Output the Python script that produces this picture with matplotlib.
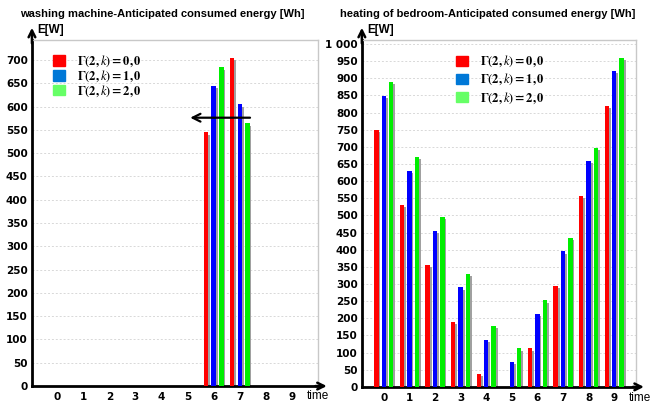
import numpy as np
import matplotlib.pyplot as plt
from matplotlib.patches import Patch

plt.rcParams['mathtext.fontset'] = 'stix'

times = np.arange(10)

# washing machine
wash_g0 = [0, 0, 0, 0, 0, 0, 545, 705, 0, 0]
wash_g1 = [0, 0, 0, 0, 0, 0, 645, 605, 0, 0]
wash_g2 = [0, 0, 0, 0, 0, 0, 685, 565, 0, 0]

# heating of bedroom
heat_g0 = [748, 530, 355, 190, 38, 0, 112, 295, 558, 820]
heat_g1 = [848, 630, 455, 290, 138, 72, 212, 395, 658, 920]
heat_g2 = [888, 670, 495, 328, 177, 112, 252, 435, 698, 960]

legend_labels = [r'$\mathbf{\Gamma(2,}\mathit{k}\mathbf{)=0,0}$',
                 r'$\mathbf{\Gamma(2,}\mathit{k}\mathbf{)=1,0}$',
                 r'$\mathbf{\Gamma(2,}\mathit{k}\mathbf{)=2,0}$']
legend_colors = ['#ff0000', '#0078d7', '#66ff66']
bar_colors = ['#ff0000', '#0000ff', '#00ee00']


def fmt(v):
    return '{:,}'.format(int(v)).replace(',', ' ')


def draw(ax, series, ymax, ylim, xlim, leg_anchor, leg_spacing):
    w = 0.17
    offs = [-0.29, 0.0, 0.29]
    for s, off, c in zip(series, offs, bar_colors):
        vals = np.array(s, dtype=float)
        # grey shadow
        ax.bar(times + off + 0.07, np.clip(vals - 6, 0, None), width=w,
               color='#a0a0a0', zorder=2, linewidth=0)
        ax.bar(times + off, vals, width=w, color=c, zorder=3, linewidth=0)

    ax.set_xlim(*xlim)
    ax.set_ylim(0, ylim)
    ax.set_xticks(times)
    ax.set_yticks(np.arange(0, ymax + 1, 50))
    ax.set_yticklabels([fmt(v) for v in np.arange(0, ymax + 1, 50)])
    for lab in ax.get_xticklabels() + ax.get_yticklabels():
        lab.set_fontweight('bold')
        lab.set_fontsize(7.5)
    ax.tick_params(length=0, pad=3)
    ax.tick_params(axis='x', pad=4.5)
    ax.grid(axis='y', color='#d8d8d8', linestyle=(0, (2, 2)), linewidth=0.7, zorder=0)
    ax.set_axisbelow(True)

    for sp in ['top', 'right']:
        ax.spines[sp].set_color('#c8c8c8')
        ax.spines[sp].set_linewidth(1)
    for sp in ['left', 'bottom']:
        ax.spines[sp].set_linewidth(2)
        ax.spines[sp].set_color('black')

    # axis arrows
    ax.annotate('', xy=(0, 1.035), xytext=(0, 0.99), xycoords='axes fraction',
                arrowprops=dict(arrowstyle='->', lw=1.8, color='black',
                                mutation_scale=12, shrinkA=0, shrinkB=0),
                annotation_clip=False)
    ax.annotate('', xy=(1.03, 0), xytext=(0.99, 0), xycoords='axes fraction',
                arrowprops=dict(arrowstyle='->', lw=1.8, color='black',
                                mutation_scale=12, shrinkA=0, shrinkB=0),
                annotation_clip=False)
    ax.text(0.02, 1.028, 'E[W]', transform=ax.transAxes, fontsize=8.5,
            fontweight='bold', va='center', ha='left',
            family='Liberation Sans')

    handles = [Patch(color=c) for c in legend_colors]
    ax.legend(handles, legend_labels, loc='upper left', bbox_to_anchor=leg_anchor,
              frameon=False, handlelength=0.9, handleheight=0.9,
              handletextpad=1.0, labelspacing=leg_spacing, fontsize=9,
              borderpad=0, borderaxespad=0)


fig = plt.figure(figsize=(6.52, 4.03), dpi=100)
ax1 = fig.add_axes([0.049, 0.042, 0.439, 0.859])
ax2 = fig.add_axes([0.555, 0.040, 0.420, 0.861])

draw(ax1, [wash_g0, wash_g1, wash_g2], 700, 743, (-0.96, 10.0),
     (0.075, 0.96), -0.06)
draw(ax2, [heat_g0, heat_g1, heat_g2], 1000, 1012, (-0.86, 9.84),
     (0.345, 0.96), 0.22)

fig.text(162 / 652, 1 - 14 / 403, 'washing machine-Anticipated consumed energy [Wh]',
         fontsize=8, fontweight='bold', family='Liberation Sans',
         ha='center', va='center')
fig.text(488 / 652, 1 - 14 / 403, 'heating of bedroom-Anticipated consumed energy [Wh]',
         fontsize=8, fontweight='bold', family='Liberation Sans',
         ha='center', va='center')

# shifting arrow in the washing machine chart
ax1.annotate('', xy=(5.1, 576), xytext=(7.39, 576),
             arrowprops=dict(arrowstyle='->', lw=1.6, color='black',
                             mutation_scale=14, shrinkA=0, shrinkB=0), zorder=5)

ax1.text(1.0, -0.03, 'time', transform=ax1.transAxes, fontsize=8.5,
         va='center', ha='center', family='Liberation Sans')
fig.text(651 / 652, 1 - 398 / 403, 'time', fontsize=8.5,
         va='center', ha='right', family='Liberation Sans')

fig.savefig('out.png', dpi=100)
